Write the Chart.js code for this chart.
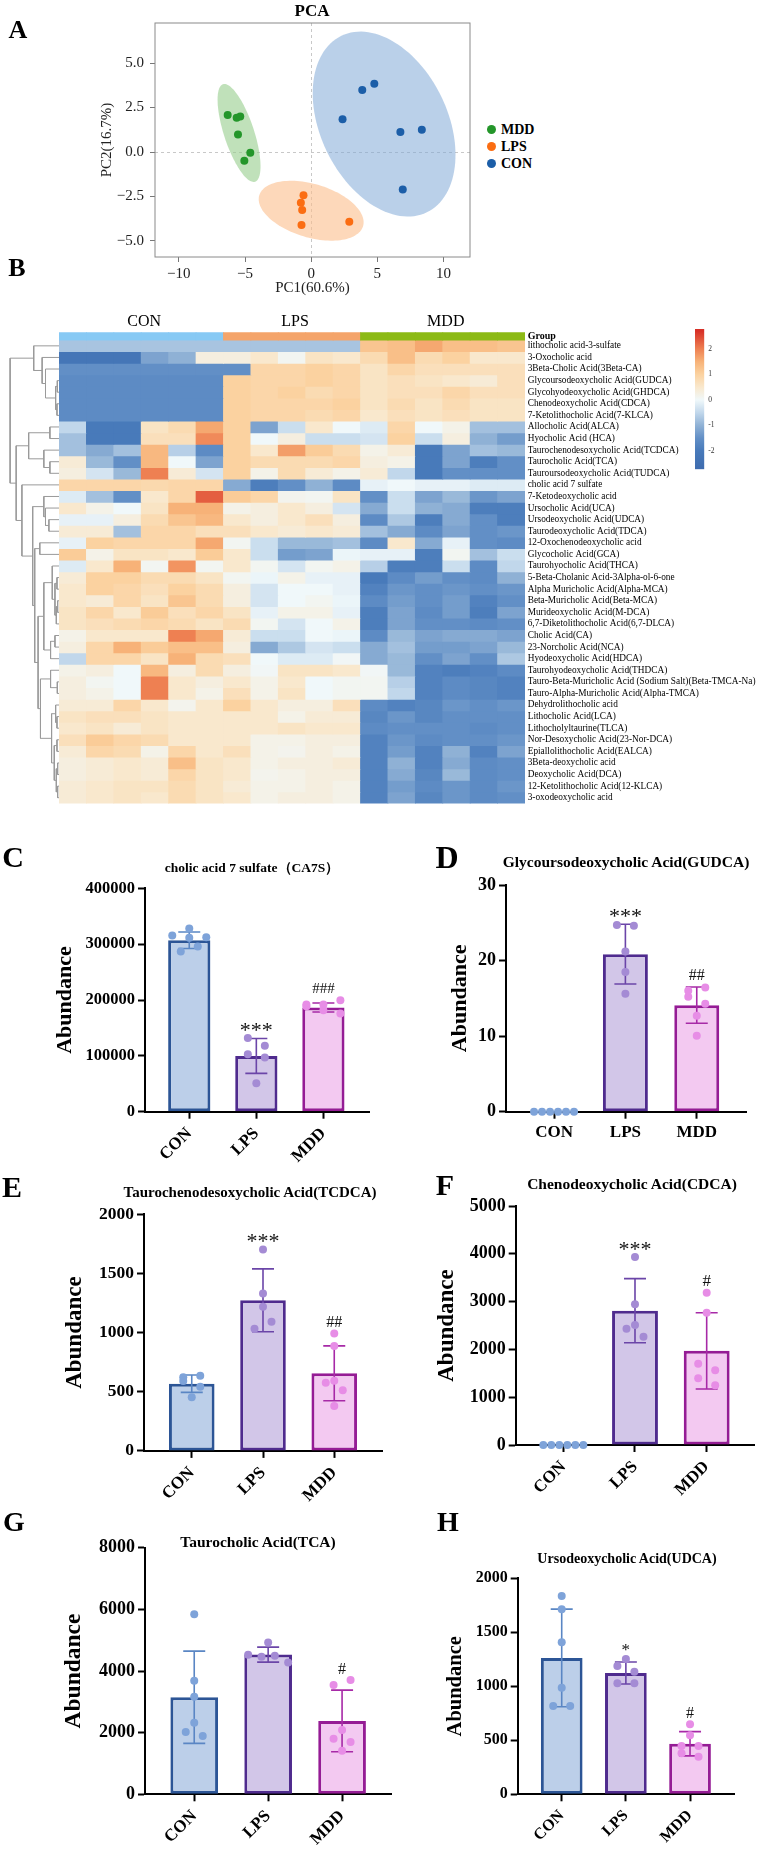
<!DOCTYPE html>
<html>
<head>
<meta charset="utf-8">
<script src="https://cdn.jsdelivr.net/npm/chart.js@4.4.1/dist/chart.umd.min.js"></script>
<style>
  body { margin: 0; background: #fff; }
  #page { position: relative; width: 759px; height: 1855px; overflow: hidden; background: #fff;
          font-family: 'Liberation Serif', 'Times New Roman', serif; color: #000; }
  canvas { position: absolute; }
  .txt { position: absolute; white-space: nowrap; line-height: 1; transform: translate(-50%, -50%); }
</style>
</head>
<body>
<div id="page"></div>
<script>
// ---------- data ----------
const groups = ['CON', 'LPS', 'MDD'];

// A: PCA scores
const pc1MDD = [-6.31, -5.63, -5.36, -5.53, -4.60, -5.05];
const pc2MDD = [2.08, 1.93, 2.00, 0.99, -0.04, -0.49];
const pc1LPS = [-0.58, -0.78, -0.68, -0.73, 2.88];
const pc2LPS = [-2.43, -2.85, -3.26, -4.10, -3.92];
const pc1CON = [2.37, 3.86, 4.77, 6.74, 8.36, 6.92];
const pc2CON = [1.84, 3.48, 3.84, 1.12, 1.25, -2.10];
const pcaXTicks = [-10, -5, 0, 5, 10];
const pcaYTicks = [-5, -2.5, 0, 2.5, 5];
// confidence ellipses (MDD, LPS, CON): centre, half axis a, half axis b (data units)
const ellipseCenter = [[-5.45, 1.07], [0.0, -3.3], [5.51, 1.57]];
const ellipseAxisA = [[1.21, -2.74], [3.92, -0.87], [3.23, -4.96]];
const ellipseAxisB = [[1.08, 0.26], [-0.58, -1.44], [4.32, 1.55]];

// B: heatmap (z-scores), columns CON x6, LPS x5, MDD x6
const colGroups = [0, 0, 0, 0, 0, 0, 1, 1, 1, 1, 1, 2, 2, 2, 2, 2, 2];
const metabolites = [
  'lithocholic acid-3-sulfate', '3-Oxocholic acid', '3Beta-Cholic Acid(3Beta-CA)',
  'Glycoursodeoxycholic Acid(GUDCA)', 'Glycohyodeoxycholic Acid(GHDCA)', 'Chenodeoxycholic Acid(CDCA)',
  '7-Ketolithocholic Acid(7-KLCA)', 'Allocholic Acid(ALCA)', 'Hyocholic Acid (HCA)',
  'Taurochenodesoxycholic Acid(TCDCA)', 'Taurocholic Acid(TCA)', 'Tauroursodeoxycholic Acid(TUDCA)',
  'cholic acid 7 sulfate', '7-Ketodeoxycholic acid', 'Ursocholic Acid(UCA)', 'Ursodeoxycholic Acid(UDCA)',
  'Taurodeoxycholic Acid(TDCA)', '12-Oxochenodeoxycholic acid', 'Glycocholic Acid(GCA)',
  'Taurohyocholic Acid(THCA)', '5-Beta-Cholanic Acid-3Alpha-ol-6-one', 'Alpha Muricholic Acid(Alpha-MCA)',
  'Beta-Muricholic Acid(Beta-MCA)', 'Murideoxycholic Acid(M-DCA)', '6,7-Diketolithocholic Acid(6,7-DLCA)',
  'Cholic Acid(CA)', '23-Norcholic Acid(NCA)', 'Hyodeoxycholic Acid(HDCA)', 'Taurohyodeoxycholic Acid(THDCA)',
  'Tauro-Beta-Muricholic Acid (Sodium Salt)(Beta-TMCA-Na)', 'Tauro-Alpha-Muricholic Acid(Alpha-TMCA)',
  'Dehydrolithocholic acid', 'Lithocholic Acid(LCA)', 'Lithocholyltaurine(TLCA)',
  'Nor-Desoxycholic Acid(23-Nor-DCA)', 'Epiallolithocholic Acid(EALCA)', '3Beta-deoxycholic acid',
  'Deoxycholic Acid(DCA)', '12-Ketolithocholic Acid(12-KLCA)', '3-oxodeoxycholic acid'
];
const heatValues = [
  [-0.75, -0.75, -0.75, -0.75, -0.75, -0.75, -0.75, -0.75, -0.75, -0.75, -0.75, 1.2, 1.3, 1.6, 1.3, 1.3, 1.2],
  [-2.2, -2.2, -2.2, -1.2, -1.0, 0.3, 0.3, 0.5, 0.1, 0.6, 0.5, 0.8, 1.3, 0.8, 1.0, 0.5, 0.5],
  [-1.5, -1.5, -1.5, -1.5, -1.5, -1.5, -1.5, 0.9, 0.9, 1.0, 0.9, 0.6, 0.9, 0.7, 0.7, 0.7, 0.7],
  [-1.6, -1.6, -1.6, -1.6, -1.6, -1.6, 1.0, 0.9, 0.9, 1.0, 0.9, 0.6, 0.7, 0.6, 0.5, 0.4, 0.7],
  [-1.6, -1.6, -1.6, -1.6, -1.6, -1.6, 1.0, 0.9, 1.0, 0.8, 0.9, 0.6, 0.7, 0.7, 0.9, 0.7, 0.7],
  [-1.6, -1.6, -1.6, -1.6, -1.6, -1.6, 1.0, 0.9, 0.9, 0.9, 1.0, 0.6, 0.8, 0.6, 0.8, 0.6, 0.6],
  [-1.6, -1.6, -1.6, -1.6, -1.6, -1.6, 1.0, 0.9, 0.9, 0.8, 0.9, 0.5, 0.7, 0.6, 0.7, 0.6, 0.6],
  [-0.5, -2.0, -2.0, 0.6, 0.8, 1.6, 1.0, -1.2, -0.4, 0.5, 0.0, -0.2, 0.9, 0.0, 0.2, -0.8, -0.8],
  [-0.8, -2.0, -2.0, 0.7, 0.7, 1.9, 1.0, 0.0, 0.3, -0.4, -0.4, -0.3, 1.0, -0.4, 0.3, -1.0, -1.3],
  [-0.8, -1.1, -0.8, 1.4, -0.6, -1.6, 1.0, 0.5, 1.7, 1.1, 0.8, 0.2, 0.4, -2.0, -1.2, -0.8, -0.9],
  [0.4, -0.9, -1.5, 1.4, 0.0, -1.2, 1.0, 0.8, 0.8, 0.8, 0.9, 0.3, 0.2, -2.0, -1.2, -1.9, -1.5],
  [0.3, -0.3, -0.9, 2.0, 0.4, -0.3, 1.0, 0.2, 0.8, 0.4, 0.2, 0.4, -0.5, -2.0, -1.5, -1.5, -1.5],
  [0.9, 0.9, 0.9, 0.85, 0.9, 0.9, -1.1, -1.9, -1.5, -1.0, -1.6, -0.1, 0.0, -0.1, -0.1, -0.2, -0.2],
  [-0.2, -0.8, -1.5, 0.5, 0.9, 2.3, 1.1, 0.9, 0.15, 0.1, 0.6, -1.5, -0.4, -1.2, -0.9, -1.4, -1.2],
  [0.5, 0.2, 0.0, 0.6, 1.5, 1.5, 0.2, 0.3, 0.5, 0.3, -0.3, -1.1, -0.4, -1.0, -1.1, -1.9, -1.9],
  [-0.1, -0.1, 0.3, 0.8, 1.2, 1.4, 0.5, 0.3, 0.5, 0.7, 0.3, -1.6, -0.7, -1.9, -1.1, -1.5, -1.9],
  [0.4, 0.4, -0.8, 0.9, 0.9, 0.7, 0.7, 0.5, 0.4, 0.5, 0.4, -0.8, -1.1, -1.6, -1.2, -1.5, -1.4],
  [-0.1, 1.0, 0.9, 0.9, 0.9, 1.6, 0.1, -0.4, -0.9, -0.9, -0.8, -1.6, 0.5, -1.1, -0.1, -1.5, -1.6],
  [1.1, 0.2, 0.6, 0.6, 0.5, 1.1, 0.5, -0.4, -1.3, -1.2, -0.05, -0.1, -0.1, -1.9, 0.1, -0.8, -0.4],
  [-0.2, 0.5, 1.5, 0.1, 1.8, 0.1, 0.5, 0.1, -0.3, 0.1, 0.2, -0.6, -1.9, -1.9, -0.4, -1.6, -0.5],
  [0.4, 1.0, 1.0, 0.8, 0.8, 0.6, 0.1, -0.05, 0.2, -0.1, -0.1, -2.0, -1.6, -1.3, -1.5, -1.6, -1.0],
  [0.5, 1.0, 0.9, 0.7, 1.0, 0.8, 0.3, -0.3, 0.0, 0.0, -0.1, -1.8, -1.4, -1.5, -1.4, -1.5, -1.4],
  [0.5, 0.4, 0.9, 0.6, 1.2, 0.8, 0.3, -0.3, 0.0, 0.1, -0.05, -1.6, -1.3, -1.5, -1.3, -1.8, -1.5],
  [0.6, 0.9, 0.5, 1.1, 0.7, 0.9, 0.6, -0.1, 0.2, 0.2, -0.1, -1.9, -1.2, -1.6, -1.3, -1.9, -1.2],
  [0.6, 0.7, 0.8, 0.9, 0.8, 0.6, 0.8, 0.1, -0.3, 0.0, 0.2, -1.9, -1.2, -1.5, -1.5, -1.6, -1.5],
  [0.2, 0.5, 0.5, 0.5, 2.0, 1.6, 0.4, -0.4, -0.4, 0.0, -0.05, -1.6, -0.9, -1.2, -1.1, -1.1, -1.2],
  [0.3, 0.9, 1.5, 1.1, 1.3, 1.3, 0.3, -1.1, -0.7, -0.3, -0.4, -1.1, -0.8, -1.3, -1.3, -1.2, -0.9],
  [-0.5, 0.9, 0.9, 0.6, 1.5, 0.8, 0.7, 0.0, -0.2, -0.2, 0.05, -1.1, -0.9, -1.5, -1.2, -1.5, -0.7],
  [0.2, 0.3, 0.0, 1.4, 0.3, 0.8, 0.3, 0.05, 0.6, 0.6, 0.5, 0.05, -0.9, -1.8, -1.9, -1.8, -1.6],
  [0.3, 0.1, 0.0, 2.0, 0.5, 0.3, 0.5, 0.2, 0.5, 0.0, 0.1, 0.1, -0.6, -1.8, -1.6, -1.7, -1.8],
  [0.3, 0.2, 0.0, 2.0, 0.5, 0.2, 0.7, 0.2, 0.6, 0.0, 0.1, 0.1, -0.5, -1.8, -1.6, -1.7, -1.8],
  [0.4, 0.4, 0.9, 0.5, 0.15, 0.5, 1.0, 0.5, 0.3, 0.3, 0.7, -1.6, -1.8, -1.7, -1.4, -1.5, -1.4],
  [0.6, 0.7, 0.7, 0.6, 0.5, 0.5, 0.5, 0.5, 0.2, 0.4, 0.4, -1.7, -1.4, -1.7, -1.5, -1.5, -1.5],
  [0.5, 0.6, 0.4, 0.6, 0.5, 0.5, 0.5, 0.5, 0.6, 0.5, 0.5, -1.6, -1.5, -1.5, -1.5, -1.6, -1.5],
  [0.7, 1.1, 0.9, 0.8, 0.5, 0.5, 0.5, 0.2, 0.2, 0.3, 0.3, -1.8, -1.4, -1.6, -1.5, -1.5, -1.4],
  [0.4, 0.9, 0.8, 0.2, 0.9, 0.5, 0.7, 0.2, 0.15, 0.3, 0.2, -1.8, -1.3, -1.8, -1.0, -1.8, -1.2],
  [0.3, 0.4, 0.5, 0.4, 1.3, 0.6, 0.5, 0.2, 0.3, 0.3, 0.4, -1.8, -1.0, -1.8, -1.1, -1.6, -1.5],
  [0.3, 0.4, 0.5, 0.4, 0.9, 0.6, 0.5, 0.15, 0.2, 0.3, 0.3, -1.8, -1.1, -1.7, -0.9, -1.6, -1.5],
  [0.4, 0.5, 0.6, 0.6, 0.8, 0.6, 0.4, 0.2, 0.2, 0.3, 0.2, -1.8, -1.3, -1.6, -1.4, -1.6, -1.4],
  [0.4, 0.5, 0.6, 0.5, 0.8, 0.6, 0.5, 0.2, 0.3, 0.3, 0.2, -1.8, -1.2, -1.7, -1.4, -1.6, -1.5]
];
// row clustering: [height, left, right], leaves are row numbers
const dendroTree = [145,
  [75, 1, [50, 2, [40, 3, [10, [5, 4, 5], [6, 6, 7]]]]],
  [127,
    [90, [27, 8, 9], [45, 10, [27, 11, 12]]],
    [110, 13,
      [78,
        [45, 14, [40, 15, [30, 16, 17]]],
        [72, [57, 18, 19],
          [62,
            [45, [20, 20, [12, [6, 21, 22], [8, [4, 23, 24], 25]]], [25, [12, 26, 27], 28]],
            [55, [25, 29, [5, 30, 31]], [22, [10, 32, [6, 33, 34]], [14, [6, 35, 36], [8, [4, 37, 38], [4, 39, 40]]]]]
          ]
        ]
      ]
    ]
  ]
];
const colorbarTicks = [-2, -1, 0, 1, 2];

// C-H: individual values, mean, SD, significance
const ca7sPoints = [[315500, 311400, 328000, 312500, 287000, 296000], [132000, 118000, 103000, 97000, 51000], [191800, 191800, 189000, 199500, 181600, 175700]];
const ca7sMean = [307000, 99800, 186600];
const ca7sSd = [14700, 31200, 8000];
const ca7sMarks = ['', '***', '###'];

const gudcaPoints = [[0, 0, 0, 0, 0, 0], [24.7, 24.6, 21.2, 18.5, 15.6], [16.0, 16.45, 15.2, 14.3, 12.7, 10.05]];
const gudcaMean = [0, 20.85, 14.1];
const gudcaSd = [0, 3.95, 2.4];
const gudcaMarks = ['', '***', '##'];

const tcdcaPoints = [[622, 635, 590, 542, 453], [1703, 1331, 1218, 1032, 1091], [993, 886, 593, 576, 512, 379]];
const tcdcaMean = [568, 1273, 656];
const tcdcaSd = [73, 266, 232];
const tcdcaMarks = ['', '***', '##'];

const cdcaPoints = [[0, 0, 0, 0, 0, 0], [3933, 2943, 2510, 2433, 2266], [3186, 2768, 1701, 1562, 1395, 1249]];
const cdcaMean = [0, 2810, 1970];
const cdcaSd = [0, 670, 798];
const cdcaMarks = ['', '***', '#'];

const tcaPoints = [[5844, 3682, 3164, 2321, 2019, 1890], [4927, 4525, 4460, 4493, 4279], [3543, 3705, 2084, 1802, 1695, 1413]];
const tcaMean = [3149, 4532, 2381];
const tcaSd = [1496, 243, 1000];
const tcaMarks = ['', '', '#'];

const udcaPoints = [[1836, 1713, 1407, 987, 818, 818], [1253, 1188, 1135, 1028, 1028], [648, 546, 447, 447, 380, 348]];
const udcaMean = [1263, 1123, 468];
const udcaSd = [452, 102, 112];
const udcaMarks = ['', '*', '#'];

// ---------- styles ----------
const SERIF = "'Liberation Serif', 'Times New Roman', serif";
const pcaColors = ['#24962a', '#fb6d12', '#1c5ea8'];
const ellipseFill = ['rgba(150,205,140,0.6)', 'rgba(252,190,140,0.6)', 'rgba(130,170,215,0.55)'];
const groupBarColors = ['#87c9f4', '#f4a46a', '#8cba16'];
const barFill = ['#bccfe9', '#d2c6e8', '#f3c9f1'];
const barBorder = ['#2c5596', '#4f2b8e', '#951c95'];
const dotColor = ['#7ea3d9', '#a48bd4', '#e78de6'];
const errColor = ['#5a86c4', '#6b45a8', '#a72aa7'];
const heatStops = [
  [-2.7, [62, 108, 175]], [-2.0, [72, 122, 186]], [-1.5, [98, 143, 198]], [-1.0, [143, 177, 213]],
  [-0.5, [193, 215, 235]], [0.0, [240, 248, 250]], [0.5, [249, 232, 205]], [1.0, [251, 210, 160]],
  [1.5, [247, 178, 120]], [2.0, [238, 128, 82]], [2.7, [215, 48, 39]]
];

Chart.defaults.font.family = SERIF;
Chart.defaults.color = '#000';
Chart.defaults.animation = false;
Chart.defaults.responsive = false;
Chart.defaults.maintainAspectRatio = false;
Chart.defaults.plugins.legend.display = false;
Chart.defaults.plugins.tooltip.enabled = false;

const page = document.getElementById('page');
function canvasAt(left, top, w, h) {
  const c = document.createElement('canvas');
  c.width = w; c.height = h;
  c.style.left = left + 'px'; c.style.top = top + 'px';
  c.style.width = w + 'px'; c.style.height = h + 'px';
  page.appendChild(c);
  return c;
}
// keep tick-label overhang from shrinking the plot area (layout is fixed by hand)
function noPad(s) { s.paddingTop = 0; s.paddingBottom = 0; s.paddingLeft = 0; s.paddingRight = 0; }
const texts = [];
function textAt(str, x, y, size, bold) {
  texts.push([str, x, y, size, bold]);
}
function heatColor(v) {
  if (v <= heatStops[0][0]) return 'rgb(' + heatStops[0][1].join(',') + ')';
  for (let i = 1; i < heatStops.length; i++) {
    const [v1, c1] = heatStops[i];
    if (v <= v1) {
      const [v0, c0] = heatStops[i - 1];
      const t = (v - v0) / (v1 - v0);
      return 'rgb(' + c0.map((c, k) => Math.round(c + (c1[k] - c) * t)).join(',') + ')';
    }
  }
  return 'rgb(' + heatStops[heatStops.length - 1][1].join(',') + ')';
}
const minus = v => String(v).replace('-', '\u2212');

// ---------- A: PCA ----------
const ellipsePlugin = {
  id: 'ellipses',
  beforeDatasetsDraw(chart) {
    const { ctx, scales: { x, y } } = chart;
    ctx.save();
    ellipseCenter.forEach((c, k) => {
      const a = ellipseAxisA[k], b = ellipseAxisB[k];
      ctx.beginPath();
      for (let s = 0; s <= 120; s++) {
        const t = s / 120 * Math.PI * 2;
        const px = x.getPixelForValue(c[0] + a[0] * Math.cos(t) + b[0] * Math.sin(t));
        const py = y.getPixelForValue(c[1] + a[1] * Math.cos(t) + b[1] * Math.sin(t));
        if (s === 0) ctx.moveTo(px, py); else ctx.lineTo(px, py);
      }
      ctx.closePath();
      ctx.fillStyle = ellipseFill[k];
      ctx.fill();
    });
    ctx.restore();
  },
  afterDraw(chart) {
    const { ctx, chartArea: a } = chart;
    ctx.save();
    ctx.strokeStyle = '#8a8a8a';
    ctx.lineWidth = 1;
    ctx.strokeRect(a.left, a.top, a.right - a.left, a.bottom - a.top);
    ctx.restore();
  }
};
const zeroGrid = c => (c.tick && c.tick.value === 0 ? '#c8c8c8' : 'rgba(0,0,0,0)');
new Chart(canvasAt(0, 0, 480, 300), {
  type: 'scatter',
  data: {
    datasets: [
      { label: 'MDD', data: pc1MDD.map((v, i) => ({ x: v, y: pc2MDD[i] })), backgroundColor: pcaColors[0] },
      { label: 'LPS', data: pc1LPS.map((v, i) => ({ x: v, y: pc2LPS[i] })), backgroundColor: pcaColors[1] },
      { label: 'CON', data: pc1CON.map((v, i) => ({ x: v, y: pc2CON[i] })), backgroundColor: pcaColors[2] }
    ]
  },
  options: {
    layout: { padding: { top: 23, right: 10, left: 98, bottom: 0 } },
    elements: { point: { radius: 4, borderWidth: 0 } },
    scales: {
      x: {
        min: -11.8, max: 12.0,
        afterBuildTicks: s => { s.ticks = pcaXTicks.map(v => ({ value: v })); },
        afterFit: s => { s.height = 43; noPad(s); },
        grid: { color: zeroGrid, tickColor: '#777', tickLength: 5 },
        border: { display: false, dash: [3, 3] },
        ticks: { font: { size: 15 }, color: '#222', padding: 3, callback: v => minus(v) },
        title: { display: true, text: 'PC1(60.6%)', font: { size: 15 }, color: '#222', padding: { top: 0, bottom: 3 } }
      },
      y: {
        min: -5.9, max: 7.25,
        afterBuildTicks: s => { s.ticks = pcaYTicks.map(v => ({ value: v })); },
        afterFit: s => { s.width = 57; noPad(s); },
        grid: { color: zeroGrid, tickColor: '#777', tickLength: 5 },
        border: { display: false, dash: [3, 3] },
        ticks: { font: { size: 15 }, color: '#222', padding: 6, callback: v => minus(v.toFixed(1)) },
        title: { display: true, text: 'PC2(16.7%)', font: { size: 15 }, color: '#222', padding: 0 }
      }
    }
  },
  plugins: [ellipsePlugin]
});

// ---------- B: heatmap ----------
const groupRowH = 0.67;
const heatTop = 300, heatPadTop = 32.3;
const groupLabelPlugin = {
  id: 'groupLabels',
  afterDraw(chart) {
    const { ctx, scales: { x }, chartArea } = chart;
    ctx.save();
    ctx.font = '16px ' + SERIF;
    ctx.fillStyle = '#000';
    ctx.textAlign = 'center';
    ctx.textBaseline = 'middle';
    groups.forEach((g, gi) => {
      const cols = colGroups.map((v, i) => (v === gi ? i : -1)).filter(i => i >= 0);
      const cx = (x.getPixelForValue(cols[0]) + x.getPixelForValue(cols[cols.length - 1])) / 2;
      ctx.fillText(g, cx + 3, chartArea.top - 11);
    });
    ctx.restore();
  }
};
new Chart(canvasAt(59, heatTop, 700, 505), {
  type: 'bar',
  data: {
    labels: colGroups.map((g, i) => groups[g] + (i + 1)),
    datasets: [
      { label: 'Group', data: colGroups.map(() => groupRowH), backgroundColor: colGroups.map(g => groupBarColors[g]) }
    ].concat(heatValues.map((row, r) => ({
      label: metabolites[r], data: row.map(() => 1), backgroundColor: row.map(heatColor)
    })))
  },
  options: {
    layout: { padding: { top: heatPadTop, bottom: 1.5, left: 0, right: 0 } },
    datasets: { bar: { barPercentage: 1, categoryPercentage: 1, borderWidth: 0, inflateAmount: 0.4 } },
    scales: {
      x: { stacked: true, display: false },
      y: {
        stacked: true, min: 0, max: groupRowH + metabolites.length, reverse: true, position: 'right',
        grid: { display: false, drawTicks: false }, border: { display: false },
        afterBuildTicks: s => {
          s.ticks = [{ value: groupRowH / 2 }].concat(metabolites.map((m, i) => ({ value: groupRowH + i + 0.5 })));
        },
        afterFit: s => { s.width = 234; noPad(s); },
        ticks: {
          autoSkip: false, padding: 2.7, color: '#000',
          font: c => (c.index === 0 ? { size: 10, weight: 'bold' } : { size: 9.3, weight: 'normal' }),
          callback: (v, i) => (i === 0 ? 'Group' : metabolites[i - 1])
        }
      }
    }
  },
  plugins: [groupLabelPlugin]
});

// dendrogram
const dendroPts = [];
(function walk(node) {
  if (typeof node === 'number') return { y: groupRowH + node - 0.5, h: 0 };
  const [h, a, b] = node;
  const L = walk(a), R = walk(b);
  dendroPts.push({ x: L.h, y: L.y }, { x: h, y: L.y }, { x: h, y: R.y }, { x: R.h, y: R.y }, { x: h, y: null });
  return { y: (L.y + R.y) / 2, h };
})(dendroTree);
new Chart(canvasAt(0, heatTop, 59, 505), {
  type: 'scatter',
  data: { datasets: [{ data: dendroPts, showLine: true, spanGaps: false, pointRadius: 0, borderColor: '#9a9a9a', borderWidth: 1 }] },
  options: {
    layout: { padding: { top: heatPadTop, bottom: 1.5, left: 0, right: 0 } },
    scales: {
      x: { type: 'linear', min: 0, max: 175, reverse: true, display: false },
      y: { min: 0, max: groupRowH + metabolites.length, reverse: true, display: false }
    }
  }
});

// colour key
new Chart(canvasAt(690, 320, 40, 160), {
  type: 'bar',
  data: {
    labels: [''],
    datasets: [{
      data: [[-2.72, 2.78]], borderWidth: 0, barPercentage: 1, categoryPercentage: 1,
      backgroundColor: c => {
        const { chart } = c;
        if (!chart.chartArea) return 'rgba(0,0,0,0)';
        const y = chart.scales.y;
        const g = chart.ctx.createLinearGradient(0, y.getPixelForValue(-2.72), 0, y.getPixelForValue(2.78));
        heatStops.forEach(([v, col]) => g.addColorStop(Math.min(1, Math.max(0, (v + 2.72) / 5.5)), 'rgb(' + col.join(',') + ')'));
        return g;
      }
    }]
  },
  options: {
    layout: { padding: { top: 9, bottom: 10.7, left: 5, right: 0 } },
    scales: {
      x: { display: false },
      y: {
        min: -2.72, max: 2.78, position: 'right',
        grid: { display: false, drawTicks: false }, border: { display: false },
        afterBuildTicks: s => { s.ticks = colorbarTicks.map(v => ({ value: v })); },
        afterFit: s => { s.width = 25.7; noPad(s); },
        ticks: { font: { size: 7.5 }, color: '#333', padding: 4 }
      }
    }
  }
});

// ---------- C-H: bar panels ----------
function swarm(vals, gi, pxY, pxX) {
  const idx = vals.map((v, k) => k).sort((a, b) => vals[a] - vals[b]);
  const rows = [];
  idx.forEach(k => {
    const r = rows[rows.length - 1];
    if (r && (vals[k] - vals[r[0]]) * pxY < 8) r.push(k); else rows.push([k]);
  });
  const out = [];
  rows.forEach(r => {
    r.sort((a, b) => a - b);
    const n = r.length, step = n > 1 ? Math.min(17, 40 / (n - 1)) : 0;
    r.forEach((k, j) => out.push({ x: gi + (j - (n - 1) / 2) * step / pxX, y: vals[k], g: gi }));
  });
  return out;
}

function barPanel(p) {
  const [cl, ct, cw, ch] = p.canvas;
  const [pl, pr, pt, pb] = p.plot;
  const boxLeft = p.titleX - p.ttl * 0.6;
  const pxY = (pb - pt) / p.yMax;
  const pxX = (pr - pl) / (p.xr[1] - p.xr[0]);
  const pts = [];
  p.pts.forEach((vals, gi) => pts.push(...swarm(vals, gi, pxY, pxX)));

  const errPlugin = {
    id: 'err' + p.id,
    afterDatasetDraw(chart, args) {
      if (args.index !== 0) return;
      const { ctx, scales: { x, y } } = chart;
      ctx.save();
      ctx.lineWidth = 1.6;
      p.mean.forEach((m, i) => {
        const s = p.sd[i];
        if (!s) return;
        const cx = x.getPixelForValue(i);
        const yt = y.getPixelForValue(m + s), yb = y.getPixelForValue(m - s);
        ctx.strokeStyle = errColor[i];
        ctx.beginPath();
        ctx.moveTo(cx, yt); ctx.lineTo(cx, yb);
        ctx.moveTo(cx - 11, yt); ctx.lineTo(cx + 11, yt);
        ctx.moveTo(cx - 11, yb); ctx.lineTo(cx + 11, yb);
        ctx.stroke();
      });
      ctx.restore();
    },
    afterDraw(chart) {
      const { ctx, scales: { x, y } } = chart;
      ctx.save();
      ctx.fillStyle = '#111';
      ctx.textAlign = 'center';
      ctx.textBaseline = 'alphabetic';
      p.marks.forEach((m, i) => {
        if (!m) return;
        const top = Math.max(Math.max(...p.pts[i]), p.mean[i] + p.sd[i]);
        const cy = y.getPixelForValue(top) - 12;
        const star = m[0] === '*';
        const size = star ? p.star : p.hash;
        ctx.font = size + 'px ' + SERIF;
        ctx.fillText(m, x.getPixelForValue(i), cy + (star ? 0.5 : 0.34) * size);
      });
      ctx.restore();
    }
  };

  new Chart(canvasAt(cl, ct, cw, ch), {
    type: 'bar',
    data: {
      datasets: [
        {
          type: 'bar', data: p.mean.map((m, i) => ({ x: i, y: m })), order: 2,
          backgroundColor: barFill, borderColor: barBorder, borderWidth: 3, borderSkipped: false,
          barPercentage: p.barPct, categoryPercentage: 1
        },
        {
          type: 'scatter', data: pts, order: 1, clip: false, pointRadius: 4, pointBorderWidth: 0,
          pointBackgroundColor: pts.map(d => dotColor[d.g])
        }
      ]
    },
    options: {
      layout: { padding: { top: pt - ct, right: cl + cw - pr, left: boxLeft - cl, bottom: 0 } },
      scales: {
        x: {
          type: 'linear', min: p.xr[0], max: p.xr[1], offset: false,
          afterBuildTicks: s => { s.ticks = groups.map((g, i) => ({ value: i })); },
          afterFit: s => { s.height = ct + ch - pb; noPad(s); },
          grid: { offset: false, drawOnChartArea: false, tickLength: 7, tickWidth: 2, tickColor: '#000' },
          border: { color: '#000', width: 2 },
          ticks: {
            autoSkip: false, maxRotation: p.rot, minRotation: p.rot, padding: p.rot ? 5 : 4, color: '#000',
            font: { size: p.lab, weight: 'bold' }, callback: v => groups[v]
          }
        },
        y: {
          min: 0, max: p.yMax,
          afterFit: s => { s.width = pl - boxLeft; noPad(s); },
          grid: { drawOnChartArea: false, tickLength: 7, tickWidth: 2, tickColor: '#000' },
          border: { color: '#000', width: 2 },
          ticks: { stepSize: p.yStep, padding: 3, color: '#000', font: { size: p.tick, weight: 'bold' }, callback: v => String(v) },
          title: { display: true, text: 'Abundance', color: '#000', padding: 0, font: { size: p.ttl, weight: 'bold' } }
        }
      }
    },
    plugins: [errPlugin]
  });
}

barPanel({ id: 'C', canvas: [0, 870, 380, 300], plot: [145, 369, 888.3, 1111.7], titleX: 65, yMax: 400000, yStep: 100000,
  xr: [-0.66, 2.68], barPct: 0.63, rot: 45, tick: 16.5, lab: 17, ttl: 22, star: 22, hash: 15,
  pts: ca7sPoints, mean: ca7sMean, sd: ca7sSd, marks: ca7sMarks });
barPanel({ id: 'D', canvas: [380, 870, 379, 280], plot: [506, 746, 885, 1111.7], titleX: 460, yMax: 30, yStep: 10,
  xr: [-0.673, 2.69], barPct: 0.63, rot: 0, tick: 18, lab: 17, ttl: 22, star: 22, hash: 16,
  pts: gudcaPoints, mean: gudcaMean, sd: gudcaSd, marks: gudcaMarks });
barPanel({ id: 'E', canvas: [0, 1200, 390, 315], plot: [144, 382, 1214.3, 1450.9], titleX: 75, yMax: 2000, yStep: 500,
  xr: [-0.67, 2.67], barPct: 0.64, rot: 45, tick: 17.5, lab: 17, ttl: 23, star: 22, hash: 16,
  pts: tcdcaPoints, mean: tcdcaMean, sd: tcdcaSd, marks: tcdcaMarks });
barPanel({ id: 'F', canvas: [380, 1195, 379, 315], plot: [515.7, 754, 1206, 1445], titleX: 447, yMax: 5000, yStep: 1000,
  xr: [-0.664, 2.66], barPct: 0.64, rot: 45, tick: 18, lab: 17, ttl: 23, star: 22, hash: 17,
  pts: cdcaPoints, mean: cdcaMean, sd: cdcaSd, marks: cdcaMarks });
barPanel({ id: 'G', canvas: [0, 1535, 400, 320], plot: [145, 391.6, 1547.7, 1794.3], titleX: 74, yMax: 8000, yStep: 2000,
  xr: [-0.666, 2.67], barPct: 0.645, rot: 45, tick: 18, lab: 17, ttl: 23.5, star: 22, hash: 16,
  pts: tcaPoints, mean: tcaMean, sd: tcaSd, marks: tcaMarks });
barPanel({ id: 'H', canvas: [410, 1565, 349, 290], plot: [517.7, 734.3, 1578.3, 1794.3], titleX: 456, yMax: 2000, yStep: 500,
  xr: [-0.686, 2.69], barPct: 0.65, rot: 45, tick: 16, lab: 16, ttl: 20.5, star: 17, hash: 16,
  pts: udcaPoints, mean: udcaMean, sd: udcaSd, marks: udcaMarks });

// ---------- titles, panel letters, PCA legend ----------
textAt('PCA', 312, 10, 17, true);
textAt('cholic acid 7 sulfate\uff08CA7S\uff09', 252, 868, 13.5, true);
textAt('Glycoursodeoxycholic Acid(GUDCA)', 626, 862, 15.5, true);
textAt('Taurochenodesoxycholic Acid(TCDCA)', 250, 1192, 15, true);
textAt('Chenodeoxycholic Acid(CDCA)', 632, 1183.5, 15.5, true);
textAt('Taurocholic Acid(TCA)', 258, 1542, 15.5, true);
textAt('Ursodeoxycholic Acid(UDCA)', 627, 1559, 14, true);
[['A', 18, 30, 26], ['B', 17, 268, 26], ['C', 13, 857, 30], ['D', 447, 857, 32], ['E', 12, 1187, 30],
 ['F', 445, 1185, 30], ['G', 14, 1522, 28], ['H', 448, 1522, 28]].forEach(([l, x, y, s]) => textAt(l, x, y, s, true));

texts.forEach(([str, x, y, size, bold]) => {
  const d = document.createElement('div');
  d.className = 'txt';
  d.textContent = str;
  d.style.left = x + 'px'; d.style.top = y + 'px';
  d.style.fontSize = size + 'px';
  d.style.fontWeight = bold ? 'bold' : 'normal';
  page.appendChild(d);
});
['MDD', 'LPS', 'CON'].forEach((g, i) => {
  const y = 129 + i * 17;
  const dot = document.createElement('div');
  dot.style.cssText = 'position:absolute;width:9px;height:9px;border-radius:50%;left:487px;top:' + (y - 4.5) + 'px;background:' + pcaColors[i];
  page.appendChild(dot);
  const t = document.createElement('div');
  t.style.cssText = 'position:absolute;left:501px;top:' + (y - 7.5) + 'px;font-size:14px;line-height:15px;font-weight:bold;white-space:nowrap';
  t.textContent = g;
  page.appendChild(t);
});
</script>
</body>
</html>
